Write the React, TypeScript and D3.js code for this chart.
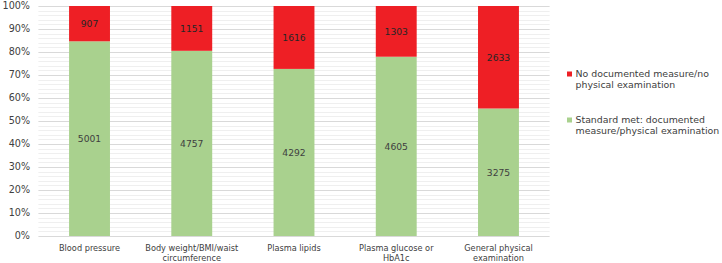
import React from "react";
import * as d3 from "d3";

const categories: string[][] = [
  ["Blood pressure"],
  ["Body weight/BMI/waist", "circumference"],
  ["Plasma lipids"],
  ["Plasma glucose or", "HbA1c"],
  ["General physical", "examination"],
];
const standardMet = [5001, 4757, 4292, 4605, 3275];
const notDocumented = [907, 1151, 1616, 1303, 2633];
const yTicks = [0, 0.1, 0.2, 0.3, 0.4, 0.5, 0.6, 0.7, 0.8, 0.9, 1];
const legendItems = [
  { lines: ["No documented measure/no", "physical examination"], color: "#EE1F25" },
  { lines: ["Standard met: documented", "measure/physical examination"], color: "#A9D18E" },
];

const W = 722;
const H = 263;
const FONT = "'DejaVu Sans', Verdana, sans-serif";

export default function App() {
  const x = d3
    .scaleBand<number>()
    .domain(d3.range(categories.length))
    .range([38.4, 549.6])
    .paddingInner(0.6)
    .paddingOuter(0.3);
  const y = d3.scaleLinear().domain([0, 1]).range([236, 6]);
  const minor = d3.range(0, 101, 2).map((v) => v / 100);

  return (
    <svg
      width={W}
      height={H}
      style={{ position: "absolute", left: 0, top: 0, background: "#fff" }}
      fontFamily={FONT}
    >
      {minor.map((v, i) => (
        <line
          key={"m" + i}
          x1={38.4}
          x2={549.6}
          y1={Math.round(y(v)) + 0.5}
          y2={Math.round(y(v)) + 0.5}
          stroke={i % 5 === 0 ? "#d9d9d9" : "#efefef"}
          strokeWidth={1}
        />
      ))}
      {yTicks.map((t, i) => (
        <text
          key={"t" + i}
          x={30}
          y={y(t)}
          dy="0.36em"
          textAnchor="end"
          fontSize={9.6}
          fill="#404040"
        >
          {d3.format(".0%")(t)}
        </text>
      ))}
      {categories.map((c, i) => {
        const total = standardMet[i] + notDocumented[i];
        const g = standardMet[i] / total;
        const bx = x(i)!;
        const bw = x.bandwidth();
        return (
          <g key={"b" + i}>
            <rect x={bx} y={y(g)} width={bw} height={y(0) - y(g)} fill="#A9D18E" />
            <rect x={bx} y={y(1)} width={bw} height={y(g) - y(1)} fill="#EE1F25" />
            <text
              x={bx + bw / 2}
              y={(y(0) + y(g)) / 2}
              dy="0.36em"
              textAnchor="middle"
              fontSize={9.2}
              fill="#404040"
            >
              {standardMet[i]}
            </text>
            <text
              x={bx + bw / 2}
              y={(y(g) + y(1)) / 2}
              dy="0.36em"
              textAnchor="middle"
              fontSize={9.2}
              fill="#262626"
            >
              {notDocumented[i]}
            </text>
            {c.map((line, j) => (
              <text
                key={j}
                x={bx + bw / 2}
                y={248 + j * 10.5}
                dy="0.36em"
                textAnchor="middle"
                fontSize={8.2}
                fill="#404040"
              >
                {line}
              </text>
            ))}
          </g>
        );
      })}
      {legendItems.map((it, i) => (
        <g key={"l" + i} transform={`translate(0, ${73.5 + i * 46})`}>
          <rect x={567} y={-2} width={5} height={5} fill={it.color} />
          {it.lines.map((ln, j) => (
            <text
              key={j}
              x={575.5}
              y={j * 11}
              dy="0.36em"
              fontSize={9.4}
              fill="#404040"
            >
              {ln}
            </text>
          ))}
        </g>
      ))}
    </svg>
  );
}
